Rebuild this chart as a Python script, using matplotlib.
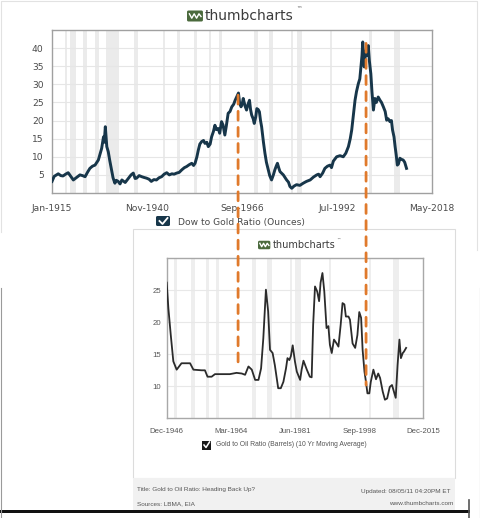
import matplotlib
matplotlib.use("Agg")
import matplotlib.pyplot as plt
import matplotlib.transforms as mtransforms
from matplotlib.patches import Rectangle, FancyBboxPatch, ConnectionPatch
from matplotlib.lines import Line2D

W, H = 481, 518

# ---------------- data ----------------
dow_years = [1915.0, 1915.6, 1916.7, 1917.4, 1918.0, 1918.7, 1919.4, 1920.1, 1920.8, 1921.7,
             1922.6, 1923.3, 1924.0, 1924.7, 1925.3, 1926.0, 1926.7, 1927.6, 1928.5, 1929.0,
             1929.2, 1929.5, 1929.9, 1930.3, 1930.7, 1931.2, 1931.6, 1932.1, 1932.5, 1933.0,
             1933.5, 1934.0, 1934.9, 1935.8, 1936.5, 1937.1, 1937.6, 1938.0, 1938.7, 1939.4,
             1940.0, 1940.7, 1941.4, 1942.0, 1942.7, 1943.4, 1944.1, 1944.8, 1945.5, 1946.2,
             1946.9, 1947.6, 1948.2, 1948.9, 1949.6, 1950.3, 1951.0, 1951.6, 1952.3, 1953.0,
             1953.5, 1953.9, 1954.4, 1954.8, 1955.2, 1955.7, 1956.2, 1956.6, 1957.1, 1957.5,
             1958.0, 1958.4, 1958.9, 1959.3, 1959.7, 1960.2, 1960.6, 1961.1, 1961.5, 1962.0,
             1962.4, 1962.9, 1963.4, 1963.9, 1964.4, 1964.8, 1965.2, 1965.7, 1966.0, 1966.4,
             1966.7, 1967.0, 1967.5, 1967.9, 1968.3, 1968.7, 1969.0, 1969.3, 1969.7, 1970.0,
             1970.4, 1970.7, 1971.1, 1971.4, 1971.7, 1972.0, 1972.5, 1972.9, 1973.3, 1973.8,
             1974.2, 1974.7, 1975.2, 1975.6, 1976.0, 1976.3, 1976.7, 1977.0, 1977.9, 1978.8,
             1979.3, 1979.7, 1980.2, 1980.8, 1981.5, 1982.4, 1983.3, 1984.2, 1985.2, 1986.1,
             1987.0, 1987.5, 1987.9, 1988.6, 1989.2, 1989.9, 1990.6, 1991.0, 1991.5, 1992.4,
             1993.3, 1994.2, 1994.9, 1995.6, 1996.1, 1996.5, 1996.9, 1997.4, 1997.8, 1998.3,
             1998.7, 1999.0, 1999.3, 1999.5, 1999.7, 1999.9, 2000.1, 2000.4, 2000.7, 2001.0,
             2001.3, 2001.7, 2002.0, 2002.4, 2002.8, 2003.2, 2003.7, 2004.2, 2004.6, 2005.1,
             2005.6, 2006.0, 2006.4, 2006.9, 2007.3, 2007.6, 2008.0, 2008.3, 2008.6, 2008.9,
             2009.2, 2009.6, 2010.0, 2010.5, 2010.9, 2011.4]
dow_gold = [3.2, 4.6, 5.3, 4.8, 4.7, 5.2, 5.6, 4.6, 3.6, 4.3,
            5.0, 4.8, 4.5, 5.8, 6.8, 7.4, 7.7, 9.1, 12.3, 15.5,
            14.0, 18.3, 12.8, 11.4, 9.0, 6.4, 4.2, 2.7, 3.5, 3.2,
            2.5, 3.6, 2.9, 4.1, 5.0, 5.5, 4.0, 4.1, 4.8, 4.5,
            4.3, 4.1, 3.8, 3.2, 3.7, 3.6, 4.2, 4.5, 5.2, 5.6,
            5.0, 5.3, 5.2, 5.5, 5.7, 6.4, 7.0, 7.3, 7.8, 8.2,
            7.6, 8.2, 10.0, 11.9, 13.5, 14.2, 14.5, 13.7, 14.0, 12.8,
            13.5, 15.5, 17.0, 18.7, 17.5, 17.8, 16.5, 19.7, 18.8, 16.0,
            18.5, 22.0, 22.5, 23.8, 24.5, 25.6, 26.5, 27.6, 25.0, 23.8,
            24.5, 26.1, 24.0, 22.9, 24.5, 25.6, 23.0, 21.5, 20.5, 19.2,
            21.0, 23.3, 23.0, 22.4, 20.0, 18.3, 14.0, 11.0, 8.5, 6.4,
            4.8, 3.6, 5.0, 6.4, 7.5, 8.2, 6.8, 5.9, 5.0, 3.6,
            3.0, 1.8, 1.3, 1.9, 2.3, 2.1, 2.7, 3.2, 3.6, 4.4,
            5.0, 5.2, 4.5, 5.5, 6.8, 7.4, 7.7, 7.0, 8.8, 10.0,
            10.3, 10.0, 11.0, 12.8, 15.0, 17.4, 21.0, 25.6, 28.0, 30.2,
            31.5, 34.8, 38.0, 41.7, 38.0, 34.8, 37.0, 39.4, 38.0, 40.7,
            36.5, 32.9, 28.0, 22.9, 26.1, 25.0, 26.5, 25.6, 25.0, 23.8,
            22.5, 20.1, 20.5, 19.7, 20.0, 17.4, 15.5, 12.8, 10.5, 7.7,
            8.0, 9.6, 9.3, 9.1, 8.5, 6.8]

oil_years = [1946.92, 1947.37, 1948.0, 1948.7, 1949.6, 1950.9, 1953.2, 1954.1, 1956.3, 1957.2,
             1957.9, 1959.0, 1959.9, 1963.9, 1965.7, 1967.1, 1968.0, 1968.9, 1969.8, 1970.7,
             1971.6, 1972.3, 1972.9, 1973.6, 1974.2, 1974.7, 1975.4, 1976.0, 1976.9, 1977.6,
             1978.3, 1979.0, 1979.4, 1979.9, 1980.3, 1980.8, 1981.4, 1981.9, 1982.8, 1983.2,
             1983.7, 1984.6, 1985.4, 1985.9, 1986.3, 1986.8, 1987.4, 1987.9, 1988.3, 1988.8,
             1989.3, 1989.9, 1990.4, 1990.8, 1991.3, 1991.9, 1992.6, 1993.1, 1993.7, 1994.2,
             1994.7, 1995.1, 1995.8, 1996.2, 1996.9, 1997.6, 1998.2, 1998.7, 1999.2, 1999.6,
             2000.1, 2000.5, 2000.9, 2001.4, 2001.8, 2002.5, 2003.2, 2003.8, 2004.3, 2005.0,
             2005.6, 2006.2, 2006.9, 2007.5, 2008.0, 2008.5, 2009.0, 2009.5, 2009.9, 2010.4,
             2010.7, 2011.3]
gold_oil = [26.2, 22.2, 18.1, 13.9, 12.6, 13.6, 13.6, 12.6, 12.5, 12.5,
            11.5, 11.5, 11.9, 11.9, 12.1, 12.0, 11.8, 13.1, 12.6, 11.0,
            11.0, 12.8, 17.5, 25.1, 21.7, 15.7, 15.2, 13.3, 9.7, 9.7,
            10.7, 12.8, 14.4, 14.1, 14.7, 16.4, 13.9, 12.3, 11.0, 12.6,
            14.0, 12.6, 11.5, 11.4, 19.6, 25.6, 24.8, 23.3, 26.2, 27.7,
            24.8, 19.1, 19.4, 16.5, 15.2, 17.3, 16.7, 16.2, 19.6, 23.0,
            22.8, 20.9, 20.9, 20.4, 16.7, 16.0, 18.0, 21.6, 20.7, 15.7,
            12.3, 10.7, 8.9, 8.9, 10.7, 12.6, 11.1, 12.0, 11.3, 9.2,
            7.9, 8.1, 9.9, 10.2, 9.2, 8.2, 13.3, 17.3, 14.4, 15.2,
            15.4, 16.0]

recessions = [(1918.6, 1919.2), (1920.0, 1921.5), (1923.4, 1924.5), (1926.8, 1927.9),
              (1929.6, 1933.2), (1937.4, 1938.5), (1945.1, 1945.8), (1948.9, 1949.8),
              (1953.5, 1954.4), (1957.6, 1958.3), (1960.3, 1961.1), (1969.9, 1970.9),
              (1973.9, 1975.2), (1980.0, 1980.5), (1981.5, 1982.9), (1990.5, 1991.2),
              (2001.2, 2001.9), (2007.9, 2009.5)]

top_ticks = [1915.0, 1940.83, 1966.67, 1992.5, 2018.33]
top_labels = ["Jan-1915", "Nov-1940", "Sep-1966", "Jul-1992", "May-2018"]
top_yticks = [5, 10, 15, 20, 25, 30, 35, 40]
bot_ticks = [1946.92, 1964.17, 1981.42, 1998.67, 2015.92]
bot_labels = ["Dec-1946", "Mar-1964", "Jun-1981", "Sep-1998", "Dec-2015"]
bot_yticks = [10, 15, 20, 25]

# dashed links between the two charts: year, value on top chart, value on bottom chart
link_years = [1965.6, 2000.4]
link_top = [27.0, 41.3]
link_bottom = [13.0, 10.2]

fig = plt.figure(figsize=(W / 100, H / 100), dpi=100)
fig.patch.set_facecolor("white")
# pixel coordinates (origin top-left) for the decorations
px = mtransforms.Affine2D().scale(1 / W, -1 / H).translate(0, 1) + fig.transFigure


def ax_rect(x0, y0, x1, y1):
    return [x0 / W, 1 - y1 / H, (x1 - x0) / W, (y1 - y0) / H]


def logo(x, y, h, size):
    w = h * 1.45
    icon = FancyBboxPatch((x, y - h / 2), w, h, boxstyle="round,pad=0,rounding_size=1.5",
                          transform=px, facecolor="#4b6a3d", edgecolor="none", zorder=2)
    fig.add_artist(icon)
    xs = [x + w * f for f in (0.15, 0.3, 0.45, 0.6, 0.75, 0.88)]
    ys = [y + h * f for f in (-0.2, 0.2, -0.2, 0.2, -0.2, 0.05)]
    fig.add_artist(Line2D(xs, ys, transform=px, color="white", lw=1.0, zorder=3))
    fig.text(x + w + 2, y, "thumbcharts", transform=px, fontsize=size, color="#3c3c3c",
             va="center", ha="left", family="DejaVu Sans")


# ---------------- frames / backgrounds ----------------
fig.add_artist(Line2D([1, 1, 477, 477], [232, 1, 1, 250], transform=px,
                      color="#e2e2e2", lw=0.8, zorder=-1))
fig.add_artist(Rectangle((133, 229), 322, 249, transform=px, facecolor="white",
                         edgecolor="#dcdcdc", lw=0.8, zorder=-0.5))
fig.add_artist(Rectangle((133, 478), 322, 32, transform=px, facecolor="#f1f1f1",
                         edgecolor="none", zorder=-0.5))
fig.add_artist(Rectangle((0, 509.5), 470, 3, transform=px, facecolor="#111111",
                         edgecolor="none", zorder=2))
fig.add_artist(Line2D([469.5, 469.5], [500, 518], transform=px, color="#555555", lw=1.2))
fig.add_artist(Line2D([0.5, 0.5], [288, 518], transform=px, color="#9a9a9a", lw=0.8))
fig.add_artist(Line2D([480.5, 480.5], [288, 518], transform=px, color="#9a9a9a", lw=0.8))

# ---------------- top chart ----------------
ax1 = fig.add_axes(ax_rect(52, 30, 432, 193))
for a, b in recessions:
    ax1.axvspan(a, b, color="#ebebeb", lw=0, zorder=0)
ax1.plot(dow_years, dow_gold, color="#17364a", lw=2.1, zorder=3, solid_joinstyle="round")
ax1.set_xlim(1915.0, 2018.33)
ax1.set_ylim(0, 45)
ax1.set_xticks(top_ticks)
ax1.set_xticklabels(top_labels)
ax1.set_yticks(top_yticks)
ax1.grid(axis="y", color="#e6e6e6", lw=0.8, zorder=1)
ax1.set_axisbelow(True)
ax1.tick_params(length=0, labelsize=6.6, labelcolor="#4a4a4a")
ax1.tick_params(axis="x", pad=8)
ax1.tick_params(axis="y", pad=6)
for s in ax1.spines.values():
    s.set_color("#a0a0a0")
    s.set_linewidth(1.0)

logo(187, 16, 11, 10)
fig.text(296, 10, "™", transform=px, fontsize=4, color="#555555", ha="left", va="center")

# top legend
fig.add_artist(FancyBboxPatch((156, 216), 14, 10, boxstyle="round,pad=0,rounding_size=1.5",
                              transform=px, facecolor="#17364a", edgecolor="none", zorder=2))
fig.add_artist(Line2D([159.5, 162.5, 167.5], [221, 224, 218], transform=px, color="white",
                      lw=1.3, zorder=3))
fig.text(178, 222, "Dow to Gold Ratio (Ounces)", transform=px, fontsize=6.6, color="#4a4a4a",
         ha="left", va="center")

# ---------------- bottom chart ----------------
ax2 = fig.add_axes(ax_rect(166.7, 258.3, 423.3, 418.3))
for a, b in recessions:
    ax2.axvspan(a, b, color="#eeeeee", lw=0, zorder=0)
ax2.plot(oil_years, gold_oil, color="#2b2b2b", lw=1.3, zorder=3, solid_joinstyle="round")
ax2.set_xlim(bot_ticks[0], bot_ticks[-1])
ax2.set_ylim(5, 30)
ax2.set_xticks(bot_ticks)
ax2.set_xticklabels(bot_labels)
ax2.set_yticks(bot_yticks)
ax2.grid(axis="y", color="#e8e8e8", lw=0.8, zorder=1)
ax2.set_axisbelow(True)
ax2.tick_params(length=0, labelsize=5.6, labelcolor="#555555")
ax2.tick_params(axis="x", pad=7)
ax2.tick_params(axis="y", pad=4)
for lab in ax2.get_xticklabels() + ax2.get_yticklabels():
    lab.set_family("Liberation Sans")
for s in ax2.spines.values():
    s.set_color("#a8a8a8")
    s.set_linewidth(1.0)

logo(258, 245, 8.5, 7)
fig.text(336, 240, "™", transform=px, fontsize=3, color="#555555", ha="left", va="center")

# bottom legend
fig.add_artist(Rectangle((202, 440.5), 9, 9, transform=px, facecolor="#1a1a1a",
                         edgecolor="none", zorder=2))
fig.add_artist(Line2D([204, 206, 209.5], [445, 447.5, 442], transform=px, color="white",
                      lw=1.1, zorder=3))
fig.text(216, 445, "Gold to Oil Ratio (Barrels) (10 Yr Moving Average)", transform=px,
         fontsize=4.9, color="#555555", ha="left", va="center", family="Liberation Sans")

# footer
foot = dict(transform=px, fontsize=4.6, color="#555555", va="center", family="Liberation Sans")
fig.text(137, 490, "Title: Gold to Oil Ratio: Heading Back Up?", ha="left", **foot)
fig.text(137, 503.5, "Sources: LBMA, EIA", ha="left", **foot)
fig.text(451, 491, "Updated: 08/05/11 04:20PM ET", ha="right", **foot)
fig.text(453, 503.5, "www.thumbcharts.com", ha="right", **foot)

# ---------------- dashed orange links ----------------
blend = mtransforms.blended_transform_factory(ax1.transData, ax2.transData)
for yr, vt, vb in zip(link_years, link_top, link_bottom):
    con = ConnectionPatch(xyA=(yr, vt), coordsA=ax1.transData, xyB=(yr, vb), coordsB=blend,
                          color="#e07a2c", lw=2.0, linestyle=(0, (3.2, 2.6)), zorder=5)
    fig.add_artist(con)

fig.savefig("out.png", dpi=100)
